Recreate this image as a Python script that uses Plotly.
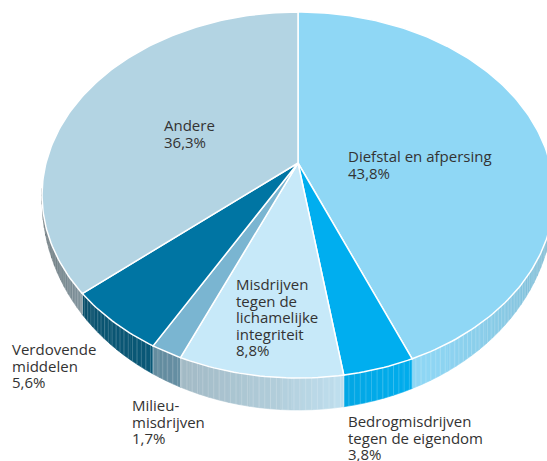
import numpy as np
import plotly.graph_objects as go

# ---------------- data ----------------
categories = [
    "Diefstal en afpersing",
    "Bedrogmisdrijven tegen de eigendom",
    "Misdrijven tegen de lichamelijke integriteit",
    "Milieumisdrijven",
    "Verdovende middelen",
    "Andere",
]
label_lines = [
    ["Diefstal en afpersing"],
    ["Bedrogmisdrijven", "tegen de eigendom"],
    ["Misdrijven", "tegen de", "lichamelijke", "integriteit"],
    ["Milieu-", "misdrijven"],
    ["Verdovende", "middelen"],
    ["Andere"],
]
shares = [43.8, 3.8, 8.8, 1.7, 5.6, 36.3]

# ---------------- style ----------------
top_colors = ["#8fd7f5", "#00aeef", "#c7e9f9", "#7ab5d1", "#0075a3", "#b3d4e3"]
# label anchor (left x, centre y of first line) in pixel space
label_pos = [(347, 157), (347, 422), (235, 285), (131, 406), (11, 350), (163, 126)]
LINE_H = 16.6
BASE_SIZE = LINE_H / 1.3     # plotly line spacing is 1.3 x annotation font size
GLYPH_SIZE = 15

W, H = 547, 461
CX, CY = 298.0, 163.0      # apex of the pie
A, B, K = 252.0, 177.4, 0.175   # perspective ellipse params
T = 32.0                    # front thickness


def proj(phi_deg):
    p = np.radians(phi_deg)
    X, Z = np.sin(p), -np.cos(p)
    d = 1 - K * Z
    return CX + A * X / d, CY + B * Z / d, Z


def thick(Z):
    return T * np.clip((Z - 0.15) / 0.85, 0, 1) ** 0.8


def hex2rgb(h):
    h = h.lstrip("#")
    return np.array([int(h[i:i + 2], 16) for i in (0, 2, 4)], dtype=float)


shade_phi = [90, 120, 155, 170, 185, 205, 225, 250, 275]
shade_f = [0.78, 0.90, 1.0, 0.97, 0.88, 0.79, 0.74, 0.54, 0.45]


def side_color(base, phi):
    f = np.interp(phi, shade_phi, shade_f)
    c = hex2rgb(base) * f
    lum = c.mean()
    c = c + (lum - c) * (1 - f) * 0.6
    c = np.clip(c, 0, 255).astype(int)
    return "rgb(%d,%d,%d)" % tuple(c)


fig = go.Figure()

cum = np.concatenate([[0], np.cumsum(shares)])
bounds = cum / cum[-1] * 360.0

# ---- side walls (strips) ----
hatch_x, hatch_y = [], []
for i, base in enumerate(top_colors):
    a0, a1 = bounds[i], bounds[i + 1]
    lo, hi = max(a0, 98.0), min(a1, 262.0)
    if hi <= lo:
        continue
    n = max(1, int(np.ceil((hi - lo) / 2.0)))
    edges = np.linspace(lo, hi, n + 1)
    for j in range(n):
        ph = np.linspace(edges[j], edges[j + 1], 4)
        xt, yt, zt = proj(ph)
        yb = yt + thick(zt)
        xs = list(xt) + list(xt[::-1]) + [xt[0]]
        ys = list(yt) + list(yb[::-1]) + [yt[0]]
        col = side_color(base, ph.mean())
        fig.add_trace(go.Scatter(x=xs, y=ys, mode="lines", fill="toself",
                                 fillcolor=col, line=dict(color=col, width=0.6),
                                 hoverinfo="skip"))
    for ph in np.arange(lo + 0.6, hi, 1.1):
        xt, yt, zt = proj(ph)
        tk = thick(zt)
        if tk > 1:
            hatch_x += [xt, xt, None]
            hatch_y += [yt, yt + tk, None]

fig.add_trace(go.Scatter(x=hatch_x, y=hatch_y, mode="lines",
                         line=dict(color="rgba(255,255,255,0.28)", width=0.7),
                         hoverinfo="skip"))

# boundary lines on the side
bx, by = [], []
for b in bounds[1:-1]:
    xt, yt, zt = proj(b)
    tk = thick(zt)
    if tk > 1:
        bx += [xt, xt, None]
        by += [yt, yt + tk, None]
fig.add_trace(go.Scatter(x=bx, y=by, mode="lines",
                         line=dict(color="rgba(255,255,255,0.6)", width=0.8),
                         hoverinfo="skip"))

# ---- top face slices ----
for i, base in enumerate(top_colors):
    ph = np.linspace(bounds[i], bounds[i + 1], max(3, int((bounds[i + 1] - bounds[i]) / 1.0) + 2))
    xt, yt, _ = proj(ph)
    xs = [CX] + list(xt) + [CX]
    ys = [CY] + list(yt) + [CY]
    fig.add_trace(go.Scatter(x=xs, y=ys, mode="lines", fill="toself",
                             fillcolor=base, line=dict(color="white", width=1.5),
                             name=categories[i], hoverinfo="name"))

# ---- labels ----
for i, lines in enumerate(label_lines):
    pct = ("%.1f" % shares[i]).replace(".", ",") + "%"
    x0, y0 = label_pos[i]
    all_lines = lines + [pct]
    txt = "<br>".join('<span style="font-size:%dpx">%s</span>' % (GLYPH_SIZE, s)
                      for s in all_lines)
    fig.add_annotation(x=x0, y=y0 - LINE_H * 0.5 - 4, text=txt, showarrow=False,
                       xanchor="left", yanchor="top", align="left",
                       xref="x", yref="y", borderpad=0,
                       font=dict(family="Open Sans, Noto Sans, sans-serif",
                                 size=BASE_SIZE, color="#333333"))

fig.update_layout(
    width=W, height=H, margin=dict(l=0, r=0, t=0, b=0),
    paper_bgcolor="white", plot_bgcolor="white", showlegend=False,
    xaxis=dict(range=[0, W], visible=False, fixedrange=True),
    yaxis=dict(range=[H, 0], visible=False, fixedrange=True),
)

fig.write_html("out.html", config={"displayModeBar": False},
               post_script="document.body.style.margin='0';")
